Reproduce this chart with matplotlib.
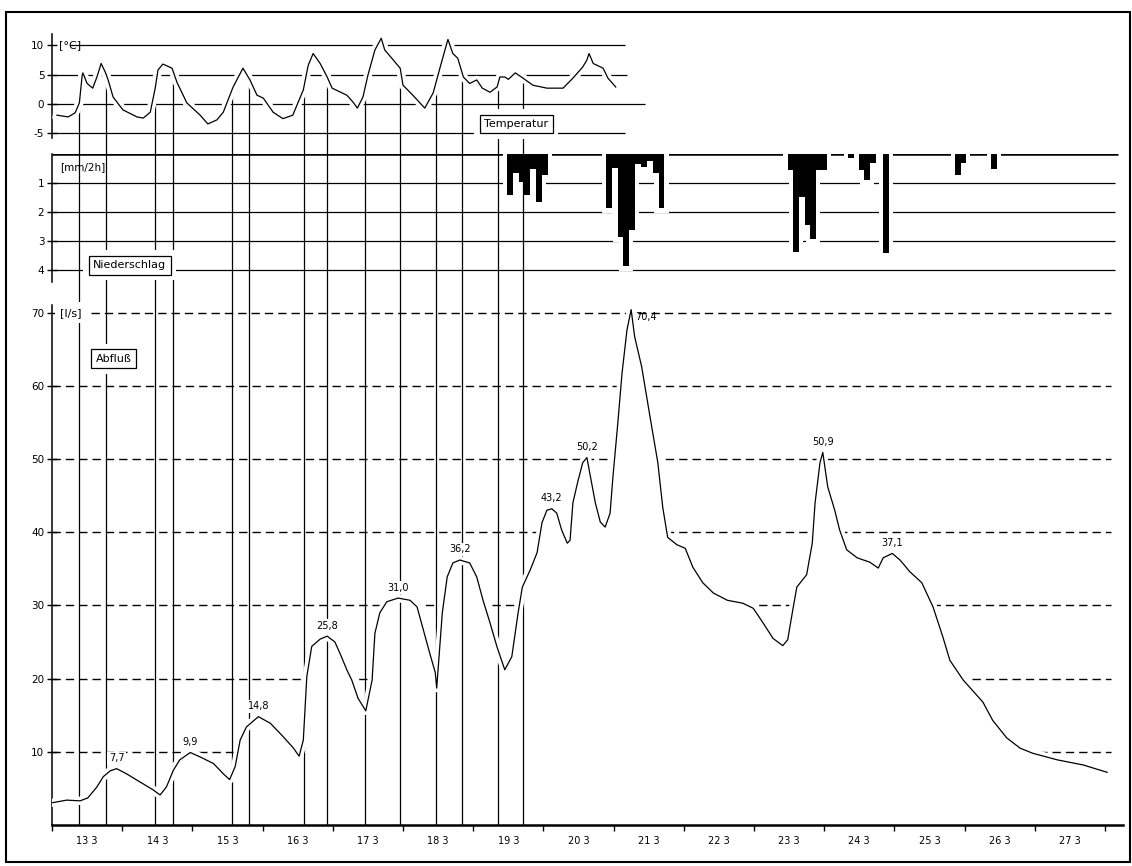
import numpy as np
import matplotlib
matplotlib.use('Agg')
from matplotlib import pyplot as plt
from matplotlib import patheffects as pe
from matplotlib.patches import Rectangle

# air temperature [°C], day of March
temp_day = [13.07, 13.23, 13.33, 13.39, 13.43, 13.44, 13.50, 13.58, 13.64, 13.70,
            13.76, 13.80, 13.87, 14.01, 14.21, 14.30, 14.40, 14.47, 14.51, 14.58,
            14.71, 14.78, 14.92, 15.11, 15.22, 15.35, 15.44, 15.58, 15.72, 15.82,
            15.92, 16.01, 16.15, 16.29, 16.43, 16.58, 16.65, 16.72, 16.82, 16.92,
            16.99, 17.20, 17.29, 17.35, 17.43, 17.50, 17.60, 17.69, 17.74, 17.84,
            17.96, 18.00, 18.14, 18.31, 18.43, 18.53, 18.64, 18.71, 18.78, 18.86,
            18.95, 19.05, 19.13, 19.24, 19.34, 19.38, 19.45, 19.50, 19.60, 19.71,
            19.85, 20.05, 20.28, 20.42, 20.56, 20.62, 20.65, 20.71, 20.85, 20.92,
            21.03]
temp_val = [-1.9, -2.2, -1.5, 0.2, 4.9, 5.3, 3.5, 2.7, 4.6, 6.9,
            5.4, 4.1, 1.2, -1.0, -2.2, -2.4, -1.4, 2.7, 5.8, 6.8,
            6.1, 3.7, 0.2, -1.9, -3.4, -2.7, -1.4, 2.9, 6.1, 4.1,
            1.5, 1.0, -1.4, -2.5, -1.9, 2.4, 6.6, 8.6, 6.9, 4.6,
            2.7, 1.5, 0.3, -0.7, 1.2, 4.9, 9.2, 11.2, 9.2, 7.8,
            6.1, 3.2, 1.5, -0.7, 1.9, 6.3, 11.0, 8.6, 7.8, 4.6,
            3.5, 4.1, 2.7, 2.0, 2.9, 4.6, 4.6, 4.2, 5.3, 4.4,
            3.2, 2.7, 2.7, 4.4, 6.3, 7.5, 8.6, 6.9, 6.1, 4.4,
            2.9]

# precipitation [mm/2h], start of each 2-hour interval
rain_start = [19.48, 19.563, 19.647, 19.73, 19.813, 19.897, 19.98,
              20.89, 20.973, 21.057, 21.14, 21.223, 21.307, 21.39, 21.473, 21.557, 21.64,
              23.48, 23.56, 23.64, 23.72, 23.80, 23.88, 23.96,
              24.34, 24.49, 24.57, 24.65, 24.84,
              25.86, 25.94,
              26.38]
rain_mm = [1.41, 0.67, 0.95, 1.41, 0.50, 1.66, 0.72,
           1.87, 0.49, 2.86, 3.86, 2.62, 0.35, 0.46, 0.25, 0.66, 1.87,
           0.55, 3.37, 1.48, 2.45, 2.93, 0.55, 0.55,
           0.15, 0.55, 0.90, 0.30, 3.41,
           0.72, 0.30,
           0.50]

# discharge [l/s]
flow_day = [13.01, 13.21, 13.40, 13.51, 13.64, 13.73, 13.83, 13.92, 14.06, 14.25,
            14.44, 14.54, 14.63, 14.73, 14.82, 14.97, 15.11, 15.30, 15.44, 15.53,
            15.61, 15.68, 15.77, 15.94, 16.11, 16.29, 16.44, 16.52, 16.58, 16.63,
            16.70, 16.82, 16.92, 17.03, 17.10, 17.20, 17.27, 17.36, 17.47, 17.56,
            17.60, 17.67, 17.77, 17.93, 18.10, 18.20, 18.28, 18.38, 18.46, 18.48,
            18.56, 18.63, 18.71, 18.81, 18.95, 19.05, 19.14, 19.24, 19.34, 19.45,
            19.55, 19.64, 19.70, 19.81, 19.91, 19.98, 20.05, 20.12, 20.19, 20.26,
            20.34, 20.38, 20.42, 20.49, 20.56, 20.62, 20.66, 20.74, 20.81, 20.88,
            20.95, 20.99, 21.06, 21.12, 21.19, 21.25, 21.30, 21.40, 21.52, 21.63,
            21.70, 21.77, 21.90, 22.02, 22.13, 22.27, 22.42, 22.62, 22.84, 22.99,
            23.13, 23.27, 23.41, 23.48, 23.56, 23.61, 23.75, 23.83, 23.87, 23.94,
            23.98, 24.05, 24.15, 24.22, 24.32, 24.47, 24.65, 24.77, 24.84, 24.97,
            25.08, 25.22, 25.39, 25.55, 25.69, 25.79, 25.98, 26.26, 26.40, 26.60,
            26.79, 26.97, 27.32, 27.69, 28.03]
flow_val = [3.05, 3.4, 3.3, 3.7, 5.2, 6.6, 7.4, 7.7, 7.0, 5.9,
            4.8, 4.1, 5.2, 7.5, 8.9, 9.9, 9.3, 8.4, 7.0, 6.2,
            8.0, 11.6, 13.4, 14.8, 13.9, 12.1, 10.5, 9.4, 11.6, 20.3,
            24.4, 25.4, 25.8, 25.0, 23.5, 21.2, 19.8, 17.3, 15.6, 19.8,
            26.2, 29.0, 30.5, 31.0, 30.7, 29.8, 27.0, 23.5, 20.8, 18.7,
            29.0, 33.9, 35.8, 36.2, 35.8, 33.9, 30.7, 27.6, 24.3, 21.2,
            23.0, 29.0, 32.5, 34.8, 37.2, 41.3, 43.0, 43.2, 42.6, 40.3,
            38.5, 38.9, 44.0, 46.9, 49.5, 50.2, 48.1, 44.0, 41.4, 40.7,
            42.6, 47.5, 54.9, 61.7, 67.6, 70.4, 66.7, 62.6, 55.7, 49.5,
            43.4, 39.3, 38.3, 37.8, 35.2, 33.1, 31.7, 30.7, 30.3, 29.6,
            27.6, 25.5, 24.5, 25.3, 29.8, 32.5, 34.2, 38.5, 44.0, 49.5,
            50.9, 46.2, 43.0, 40.3, 37.6, 36.5, 35.9, 35.1, 36.5, 37.1,
            36.2, 34.6, 33.1, 29.8, 25.7, 22.5, 19.8, 16.8, 14.3, 11.9,
            10.5, 9.8, 8.9, 8.2, 7.2]

peak_day = [13.92, 14.97, 15.94, 16.92, 17.93, 18.81, 20.12, 20.62, 21.25, 23.98, 24.97]
peak_lbl = ['7,7', '9,9', '14,8', '25,8', '31,0', '36,2', '43,2', '50,2', '70,4', '50,9', '37,1']

# vertical reference lines (temperature crossings)
mark_day = [13.385, 13.77, 14.47, 14.72, 15.56, 15.80, 16.59, 16.92,
            17.46, 17.96, 18.47, 18.84, 19.35, 19.71]

day_ticks = list(range(13, 29))
day_lbl = ['%d 3' % d for d in range(13, 28)]

W, H = 1132, 866
fig = plt.figure(figsize=(W / 100, H / 100), dpi=100)
plt.rcParams['font.family'] = ['Liberation Sans Narrow', 'DejaVu Sans']
plt.rcParams['axes.unicode_minus'] = False

X0, X1 = 52, 1123
PXD = 70.2
xlim = (13, 13 + (X1 - X0) / PXD)


def panel(top, bottom):
    a = fig.add_axes([X0 / W, 1 - bottom / H, (X1 - X0) / W, (bottom - top) / H])
    a.set_xlim(*xlim)
    a.patch.set_alpha(0)
    for s in ['top', 'right', 'bottom']:
        a.spines[s].set_visible(False)
    a.spines['left'].set_linewidth(1.1)
    a.tick_params(axis='y', direction='inout', length=7, width=1.0, labelsize=7.5, pad=2)
    a.set_xticks([])
    return a


def boxed(a, x, y, s):
    # white margin first, then the framed label
    a.text(x, y, s, fontsize=8, ha='center', va='center', zorder=8,
           bbox=dict(boxstyle='square,pad=0.9', fc='white', ec='none'))
    a.text(x, y, s, fontsize=8, ha='center', va='center', zorder=9,
           bbox=dict(boxstyle='square,pad=0.4', fc='white', ec='k', lw=0.9))


lw = 0.9
halo = [pe.Stroke(linewidth=6, foreground='white'), pe.Normal()]

# ---- temperature
ax1 = panel(25, 154)
ax1.set_ylim((104 - 154) / 5.87, (104 - 25) / 5.87)
ax1.spines['left'].set_bounds(-5.8, 12)
ax1.set_yticks([-5, 0, 5, 10])
ax1.hlines(10, 13.26, 21.16, color='k', lw=lw, zorder=1)
ax1.hlines(5, 13.0, 21.19, color='k', lw=lw, zorder=1)
ax1.hlines(0, 13.0, 21.45, color='k', lw=lw, zorder=1)
ax1.hlines(-5, 13.0, 21.16, color='k', lw=lw, zorder=1)
ax1.vlines(mark_day, -20, np.interp(mark_day, temp_day, temp_val),
           color='k', lw=lw, zorder=3)
ax1.plot(temp_day, temp_val, color='k', lw=0.9, zorder=5, path_effects=halo)
ax1.text(13.1, 10, '[°C]', fontsize=8, va='center', ha='left')
boxed(ax1, 19.61, -3.4, 'Temperatur')

# ---- precipitation
ax2 = panel(154, 290)
ax2.set_ylim((290 - 154) / 29, 0)
ax2.spines['left'].set_bounds(0, 4.4)
ax2.set_yticks([1, 2, 3, 4])
ax2.hlines(0, 13.0, 28.18, color='k', lw=1.8, zorder=1)
ax2.hlines([1, 2, 3, 4], 13.0, 28.14, color='k', lw=lw, zorder=1)
ax2.vlines(mark_day, -1, 10, color='k', lw=lw, zorder=3)
rs = np.array(rain_start)
rm = np.array(rain_mm)
ax2.bar(rs - 0.06, rm + 0.18, width=1 / 12 + 0.12, align='edge', color='white', zorder=2)
ax2.bar(rs, rm, width=1 / 12, align='edge', color='black', lw=0, zorder=4)
ax2.text(13.12, 0.45, '[mm/2h]', fontsize=7.5, ha='left', va='center')
boxed(ax2, 14.11, 3.83, 'Niederschlag')

# ---- discharge
ax3 = panel(290, 825)
ax3.set_ylim(0, (825 - 290) / 7.32)
ax3.spines['left'].set_bounds(0, 71)
ax3.set_yticks(range(10, 80, 10))
for q in range(10, 80, 10):
    ax3.hlines(q, 13.55 if q == 70 else 13.0, 28.08, color='k', lw=1.0,
               linestyles=(0, (6, 3.6)), zorder=1)
ax3.fill_between(flow_day, flow_val, 0, color='white', lw=0, zorder=2)
ax3.vlines(mark_day, 0, 200, color='k', lw=lw, zorder=3)
ax3.plot(flow_day, flow_val, color='k', lw=0.9, zorder=5, path_effects=halo)
peak_val = np.interp(peak_day, flow_day, flow_val)
for d, v, s in zip(peak_day, peak_val, peak_lbl):
    if s == '70,4':
        ax3.annotate(s, (d, v), xytext=(3, -2), textcoords='offset points', ha='left',
                     va='top', fontsize=7, zorder=7)
    else:
        ax3.annotate(s, (d, v), xytext=(0, 4), textcoords='offset points', ha='center',
                     va='bottom', fontsize=7, zorder=7,
                     bbox=dict(boxstyle='square,pad=0.15', fc='white', ec='none'))
ax3.text(13.12, 70, '[l/s]', fontsize=8, ha='left', va='center', zorder=8,
         bbox=dict(boxstyle='square,pad=0.5', fc='white', ec='none'))
boxed(ax3, 13.88, 63.7, 'Abfluß')

ax3.spines['bottom'].set_visible(True)
ax3.spines['bottom'].set_linewidth(1.8)
ax3.set_xticks(day_ticks)
ax3.set_xticklabels([])
ax3.set_xticks([d + 0.5 for d in day_ticks[:-1]], minor=True)
ax3.set_xticklabels(day_lbl, minor=True, fontsize=7)
ax3.tick_params(axis='x', which='major', direction='out', length=4, width=1)
ax3.tick_params(axis='x', which='minor', length=0, pad=8)

fig.add_artist(Rectangle((6 / W, 1 - 862 / H), 1124 / W, 850 / H, transform=fig.transFigure,
                         fill=False, ec='k', lw=1.5))

fig.savefig('out.png', dpi=100)
